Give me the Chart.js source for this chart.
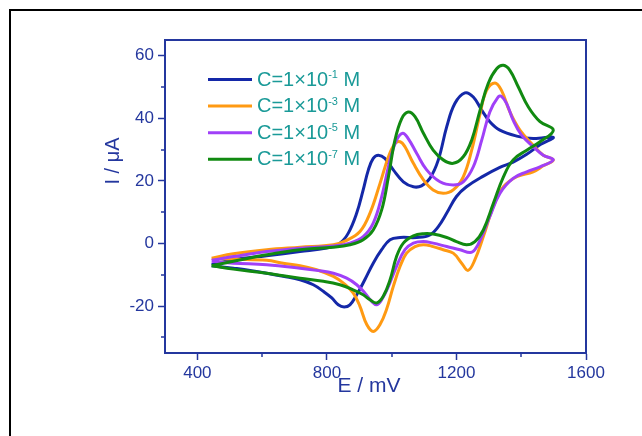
<!DOCTYPE html>
<html>
<head>
<meta charset="utf-8">
<script src="https://cdn.jsdelivr.net/npm/chart.js@4.4.1/dist/chart.umd.min.js"></script>
<style>
  html, body { margin: 0; padding: 0; background: #ffffff; }
  #wrap { position: absolute; left: 0; top: 0; width: 642px; height: 436px; }
</style>
</head>
<body>
<div id="wrap"><canvas id="c" width="642" height="436"></canvas></div>
<script>
// ---- Data ----
const xTickValues = [400, 600, 800, 1000, 1200, 1400, 1600];
const xTickLabels = ['400', '', '800', '', '1200', '', '1600'];
const yTickValues = [-30, -20, -10, 0, 10, 20, 30, 40, 50, 60];
const yTickLabels = ['', '-20', '', '0', '', '20', '', '40', '', '60'];

const seriesBase = ['C=1×10', 'C=1×10', 'C=1×10', 'C=1×10'];
const seriesExp = ['-1', '-3', '-5', '-7'];
const seriesUnit = [' M', ' M', ' M', ' M'];
const seriesColors = ['#1428a8', '#ff9a12', '#a040f8', '#118a11'];

// C = 1e-1 M (E in mV, I in µA)
const e1 = [444,511,614,717,799,840,866,892,912,928,943,959,979,1005,1036,1067,1092,1118,1144,1170,1195,1226,1252,1278,1303,1334,1386,1437,1499,
            1458,1417,1375,1334,1283,1231,1200,1170,1144,1118,1077,1026,995,969,943,917,892,871,853,835,815,789,758,717,665,614,563,511,444];
const i1 = [-6.8,-5.2,-3.9,-2.6,-1.5,0.1,3.3,9.7,17.1,23.5,27.2,28.2,27.2,23.5,19.7,18.1,18.4,20.8,26.7,37.3,44.7,48.1,46.8,42.6,38.9,36.2,34.3,33.5,33.9,
            31.5,28.5,26.0,24.3,21.5,18.1,15.0,9.7,5.4,2.7,1.9,1.9,1.2,-2.0,-6.3,-11.6,-16.4,-19.6,-20.3,-19.6,-17.4,-15.3,-13.2,-11.6,-10.5,-9.5,-8.6,-7.9,-7.1];

// C = 1e-3 M
const e3 = [444,511,614,717,820,861,902,933,964,990,1010,1026,1041,1067,1098,1128,1159,1190,1221,1247,1273,1293,1319,1339,1365,1396,1437,1468,1499,
            1468,1437,1386,1345,1314,1283,1257,1236,1216,1190,1159,1128,1098,1072,1046,1026,1005,984,964,943,923,902,881,851,820,768,717,665,614,511,444];
const i3 = [-4.7,-3.3,-2.0,-1.2,-0.4,1.0,3.8,9.7,19.2,27.7,31.9,32.5,30.9,25.6,20.3,17.1,16.0,17.1,21.3,29.8,41.5,48.9,51.3,48.9,42.0,36.2,31.4,28.2,26.7,
            24.8,22.9,21.3,18.1,11.8,2.2,-5.2,-8.6,-6.3,-3.1,-2.0,-1.0,-0.4,-1.0,-3.1,-7.3,-13.7,-21.1,-25.9,-28.1,-25.9,-20.1,-15.8,-12.7,-10.5,-8.4,-7.1,-6.3,-5.4,-5.0,-4.7];

// C = 1e-5 M
const e5 = [444,511,614,717,820,871,912,943,969,995,1015,1034,1051,1077,1108,1149,1190,1221,1252,1278,1303,1329,1339,1355,1375,1401,1437,1468,1499,
            1458,1417,1375,1334,1303,1278,1257,1242,1211,1170,1128,1098,1067,1041,1015,990,969,954,938,917,892,861,820,768,717,614,511,444];
const i5 = [-5.4,-4.2,-2.6,-1.5,-0.8,0.1,2.2,6.5,14.9,26.7,33.0,35.2,33.5,28.8,23.5,19.7,18.7,19.7,24.5,33.0,42.0,46.8,47.0,44.7,39.4,34.6,30.9,28.2,26.7,
            24.5,22.9,20.8,16.0,8.6,2.2,-2.0,-2.9,-2.0,-1.0,0.1,0.6,0.1,-2.0,-7.3,-13.7,-18.0,-19.6,-18.5,-15.8,-13.2,-11.1,-9.5,-8.6,-7.9,-6.8,-6.3,-5.7];

// C = 1e-7 M
const e7 = [444,511,614,717,820,871,912,943,969,990,1010,1031,1051,1072,1098,1128,1159,1190,1221,1247,1273,1298,1324,1345,1365,1391,1422,1458,1499,
            1458,1417,1375,1345,1314,1283,1257,1231,1200,1170,1128,1098,1067,1036,1015,995,974,954,933,912,881,840,789,717,614,511,444];
const i7 = [-7.1,-5.7,-3.6,-2.0,-1.2,-0.4,1.2,4.3,10.7,21.3,33.0,39.9,42.0,40.5,35.2,29.8,26.7,25.6,27.7,33.0,42.6,51.1,55.8,56.9,55.3,50.0,43.6,38.9,36.2,
            32.5,29.8,26.7,21.3,12.8,4.3,0.6,-0.4,0.6,1.9,3.0,3.1,2.4,0.1,-4.2,-11.6,-16.9,-19.0,-18.0,-16.4,-14.8,-13.2,-12.1,-11.1,-9.5,-8.2,-7.1];

const xTitle = 'E / mV';
const yTitle = 'I / μA';

// ---- Styling ----
const AXIS = '#24379e';
const LEGEND_TEXT = '#1a9a98';
const FONT = '"Liberation Sans", Arial, Helvetica, sans-serif';

const eArr = [e1, e3, e5, e7];
const iArr = [i1, i3, i5, i7];
const supMap = {'-':'⁻','1':'¹','3':'³','5':'⁵','7':'⁷'};

const datasets = eArr.map((es, k) => ({
  label: seriesBase[k] + seriesExp[k].split('').map(c => supMap[c] || c).join('') + seriesUnit[k],
  data: es.map((x, j) => ({ x: x, y: iArr[k][j] })),
  borderColor: seriesColors[k],
  backgroundColor: seriesColors[k],
  borderWidth: 3,
  pointRadius: 0,
  showLine: true,
  fill: false,
  tension: 0.4,
  order: 3 - k
}));

const decor = {
  id: 'decor',
  beforeDraw(chart) {
    const ctx = chart.ctx;
    ctx.save();
    ctx.fillStyle = '#ffffff';
    ctx.fillRect(0, 0, chart.width, chart.height);
    ctx.fillStyle = '#000000';
    ctx.fillRect(9, 9, 2, chart.height);
    ctx.fillRect(9, 9, chart.width, 2);
    ctx.restore();
  },
  afterDraw(chart) {
    const ctx = chart.ctx;
    const a = chart.chartArea;
    const xs = chart.scales.x, ys = chart.scales.y;
    ctx.save();
    // plot frame
    ctx.strokeStyle = AXIS;
    ctx.lineWidth = 2;
    ctx.strokeRect(a.left, a.top, a.right - a.left, a.bottom - a.top);
    // minor ticks
    ctx.beginPath();
    xTickValues.forEach((v, k) => {
      if (xTickLabels[k] === '') {
        const px = Math.round(xs.getPixelForValue(v));
        ctx.moveTo(px, a.bottom); ctx.lineTo(px, a.bottom + 4);
      }
    });
    yTickValues.forEach((v, k) => {
      if (yTickLabels[k] === '') {
        const py = Math.round(ys.getPixelForValue(v));
        ctx.moveTo(a.left, py); ctx.lineTo(a.left - 4, py);
      }
    });
    ctx.lineWidth = 1.5;
    ctx.stroke();

    // axis titles
    ctx.fillStyle = AXIS;
    ctx.font = '21px ' + FONT;
    ctx.textAlign = 'center';
    ctx.textBaseline = 'alphabetic';
    ctx.fillText(xTitle, 369, 392);
    ctx.save();
    ctx.translate(113, 161);
    ctx.rotate(-Math.PI / 2);
    ctx.textBaseline = 'middle';
    ctx.font = '20px ' + FONT;
    ctx.fillText(yTitle, 0, 0);
    ctx.restore();

    // legend
    ctx.textAlign = 'left';
    ctx.textBaseline = 'alphabetic';
    for (let k = 0; k < seriesBase.length; k++) {
      const yRow = 79.5 + k * 26.6;
      ctx.strokeStyle = seriesColors[k];
      ctx.lineWidth = 3;
      ctx.beginPath();
      ctx.moveTo(208, yRow); ctx.lineTo(252, yRow);
      ctx.stroke();
      ctx.fillStyle = LEGEND_TEXT;
      let x = 257;
      ctx.font = '20px ' + FONT;
      ctx.fillText(seriesBase[k], x, yRow + 6);
      x += ctx.measureText(seriesBase[k]).width;
      ctx.font = '11px ' + FONT;
      ctx.fillText(seriesExp[k], x, yRow - 1.5);
      x += ctx.measureText(seriesExp[k]).width;
      ctx.font = '20px ' + FONT;
      ctx.fillText(seriesUnit[k], x, yRow + 6);
    }
    ctx.restore();
  }
};

new Chart(document.getElementById('c'), {
  type: 'scatter',
  data: { datasets: datasets },
  options: {
    responsive: false,
    animation: false,
    devicePixelRatio: 1,
    layout: { padding: { left: 0, top: 40, right: 56, bottom: 0 } },
    plugins: { legend: { display: false }, tooltip: { enabled: false } },
    scales: {
      x: {
        type: 'linear',
        position: 'bottom',
        min: 300, max: 1600,
        afterBuildTicks: s => { s.ticks = xTickValues.map(v => ({ value: v })); },
        afterFit: s => { s.height = 83; },
        ticks: {
          autoSkip: false,
          maxRotation: 0,
          color: AXIS,
          padding: 3,
          font: { family: FONT, size: 17 },
          callback: (v) => { const k = xTickValues.indexOf(v); return k >= 0 ? xTickLabels[k] : ''; }
        },
        grid: {
          drawOnChartArea: false,
          drawTicks: true,
          tickLength: 7,
          tickWidth: 1.5,
          tickColor: c => { const k = xTickValues.indexOf(c.tick ? c.tick.value : NaN); return (k >= 0 && xTickLabels[k] !== '') ? AXIS : 'rgba(0,0,0,0)'; }
        },
        border: { display: true, color: AXIS, width: 2 },
        title: { display: false }
      },
      y: {
        type: 'linear',
        min: -35, max: 65,
        afterBuildTicks: s => { s.ticks = yTickValues.map(v => ({ value: v })); },
        afterFit: s => { s.width = 165; },
        ticks: {
          autoSkip: false,
          color: AXIS,
          padding: 4,
          font: { family: FONT, size: 17 },
          callback: (v) => { const k = yTickValues.indexOf(v); return k >= 0 ? yTickLabels[k] : ''; }
        },
        grid: {
          drawOnChartArea: false,
          drawTicks: true,
          tickLength: 7,
          tickWidth: 1.5,
          tickColor: c => { const k = yTickValues.indexOf(c.tick ? c.tick.value : NaN); return (k >= 0 && yTickLabels[k] !== '') ? AXIS : 'rgba(0,0,0,0)'; }
        },
        border: { display: true, color: AXIS, width: 2 },
        title: { display: false }
      }
    }
  },
  plugins: [decor]
});
</script>
</body>
</html>
